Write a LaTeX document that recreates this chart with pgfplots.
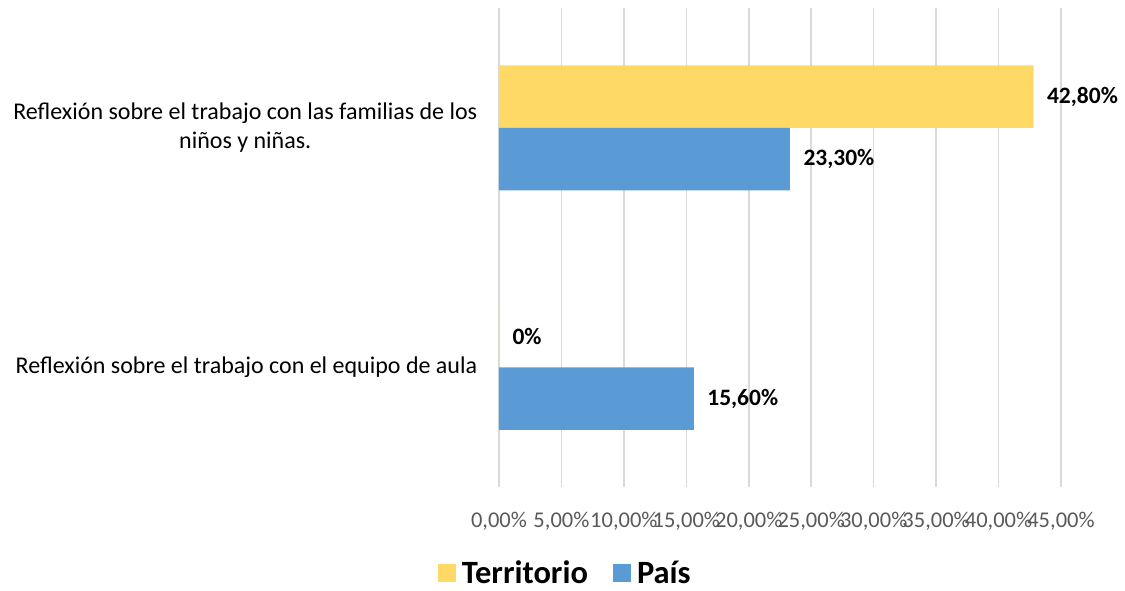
\documentclass[border=0pt]{standalone}
\usepackage{pgfplots}
\pgfplotsset{compat=1.18}
\usepackage{fontspec}
\setmainfont{Carlito}
\definecolor{Terr}{HTML}{FFD966}
\definecolor{Pais}{HTML}{5B9BD5}
\definecolor{TickGray}{HTML}{595959}
\definecolor{GridGray}{HTML}{D9D9D9}
\begin{document}
\begin{tikzpicture}
\begin{axis}[
    at={(0pt,0pt)}, anchor=south west,
    scale only axis,
    width=562pt, height=479pt,
    xmin=0, xmax=45,
    ymin=-0.5, ymax=1.5,
    xbar, bar width=62.5pt,
    axis line style={draw=none},
    major tick style={draw=none},
    xmajorgrids, major grid style={GridGray, line width=1.5pt},
    xtick={0,5,10,15,20,25,30,35,40,45},
    xticklabels={{0,00\%},{5,00\%},{10,00\%},{15,00\%},{20,00\%},{25,00\%},{30,00\%},{35,00\%},{40,00\%},{45,00\%}},
    xticklabel style={font=\fontsize{22.5}{26}\selectfont, text=TickGray, yshift=-22pt},
    ytick={0,1},
    yticklabels={{Reflexión sobre el trabajo con el equipo de aula},{Reflexión sobre el trabajo con las familias de los\\niños y niñas.}},
    yticklabel style={font=\fontsize{24}{29}\selectfont, align=center, xshift=-14pt},
    point meta=explicit symbolic,
    nodes near coords,
    nodes near coords style={font=\bfseries\fontsize{23.5}{27}\selectfont, anchor=west, xshift=10pt},
    legend columns=2,
    legend style={draw=none, fill=none, inner sep=0pt, at={(0.117,-0.180)}, anchor=center,
        font=\bfseries\fontsize{32.5}{36}\selectfont,
        nodes={inner sep=1pt},
        /tikz/every even column/.append style={column sep=24pt}},
    legend image code/.code={\path[#1, draw=none] (0pt,-9pt) rectangle (18pt,9pt);
        \path (0pt,0pt) -- (23pt,0pt);},
]
\addplot[fill=Terr, draw=none, bar shift=31.25pt] coordinates {(0,0) [0\%] (42.8,1) [42,80\%]};
\addlegendentry{Territorio}
\addplot[fill=Pais, draw=none, bar shift=-31.25pt] coordinates {(15.6,0) [15,60\%] (23.3,1) [23,30\%]};
\addlegendentry{País}
\end{axis}
\pgfresetboundingbox
\path (-499pt,-103pt) rectangle (626pt,487pt);
\end{tikzpicture}
\end{document}
